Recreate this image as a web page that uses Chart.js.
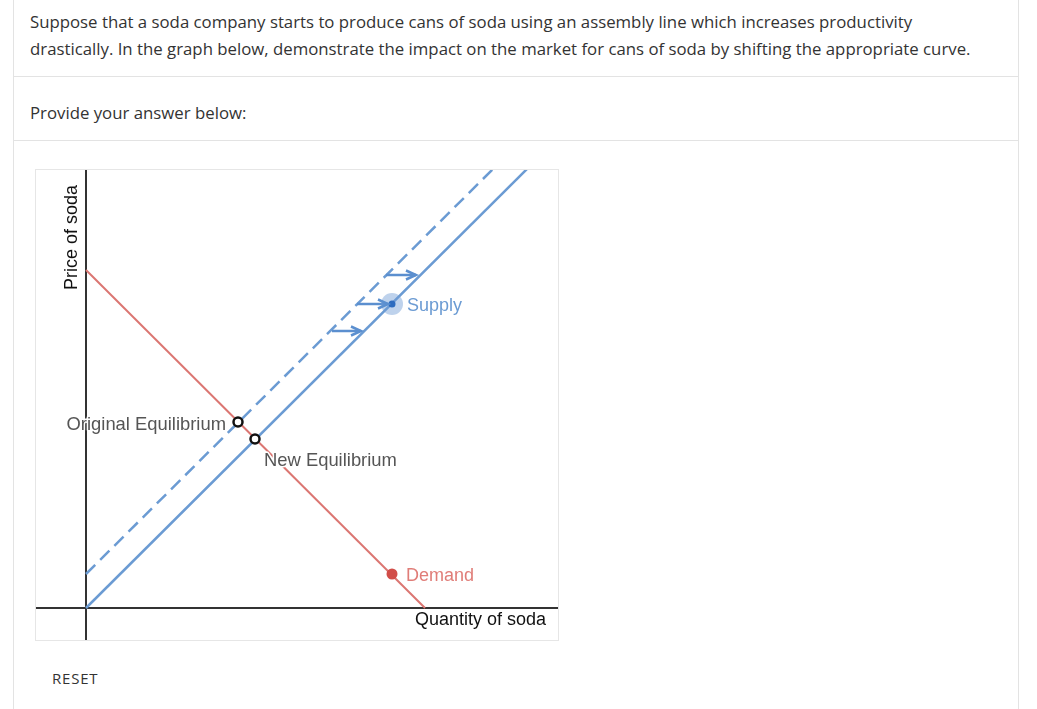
<!DOCTYPE html>
<html>
<head>
<meta charset="utf-8">
<script src="https://cdn.jsdelivr.net/npm/chart.js@4"></script>
<style>
    html, body { margin: 0; padding: 0; background: #fff; }
    body { width: 1037px; height: 709px; position: relative; overflow: hidden; font-family: 'Open Sans', sans-serif; color: #333; }
    .vline { position: absolute; top: 0; bottom: 0; width: 1px; background: #e3e3e3; }
    .hline { position: absolute; left: 13px; width: 1006px; height: 1px; background: #e3e3e3; }
    .question { position: absolute; left: 30px; top: 8px; font-size: 16.8px; line-height: 27px; }
    .prompt { position: absolute; left: 30px; top: 99px; font-size: 16.8px; line-height: 27px; }
    .chart-box { position: absolute; left: 35px; top: 169px; width: 522px; height: 470px; border: 1px solid #e6e6e6; }
    .reset { position: absolute; left: 52px; top: 668px; font-size: 15px; letter-spacing: 0.8px; color: #333; }
</style>
</head>
<body>
<div class="vline" style="left:13px"></div>
<div class="vline" style="left:1018px"></div>
<div class="hline" style="top:76px"></div>
<div class="hline" style="top:140px"></div>

<div class="question">Suppose that a soda company starts to produce cans of soda using an assembly line which increases productivity<br>drastically. In the graph below, demonstrate the impact on the market for cans of soda by shifting the appropriate curve.</div>
<div class="prompt">Provide your answer below:</div>

<div class="chart-box"><canvas id="marketChart" width="522" height="470"></canvas></div>
<div class="reset">RESET</div>

<script>
// ===== DATA (quantity / price units) =====
const xRange = [-5.0, 47.2];
const yRange = [-3.2, 43.8];

const supplyNewQ = [0, 44.1];
const supplyNewP = [0, 43.9];
const supplyOldQ = [0, 40.7];
const supplyOldP = [3.4, 43.9];
const demandQ = [33.9, 0];
const demandP = [0, 33.8];

const originalEq = [15.2, 18.6];
const newEq = [16.9, 16.9];
const supplyHandle = [30.6, 30.4];
const demandHandle = [30.6, 3.4];

// shift arrows: from the old (dashed) supply to the new one
const arrowFromQ = [30.0, 27.1, 24.6];
const arrowToQ = [33.0, 30.2, 27.5];
const arrowP = [33.3, 30.4, 27.7];

const BLUE = '#6b9bd3';
const RED = '#db7672';

function pts(qs, ps) {
    return qs.map((q, i) => ({ x: q, y: ps[i] }));
}

const arrowSets = arrowP.map((p, i) => ({
    data: [{ x: arrowFromQ[i], y: p }, { x: arrowToQ[i], y: p }],
    showLine: true,
    borderColor: '#5b8fcf',
    borderWidth: 2.5,
    pointRadius: 0,
    isArrow: true,
    order: 5
}));

// ===== PLUGINS =====
const axesPlugin = {
    id: 'axes',
    beforeDatasetsDraw(chart) {
        const { ctx, chartArea, scales } = chart;
        const x0 = scales.x.getPixelForValue(0);
        const y0 = scales.y.getPixelForValue(0);
        ctx.save();
        ctx.strokeStyle = '#333';
        ctx.lineWidth = 2;
        ctx.beginPath();
        ctx.moveTo(x0, chartArea.top);
        ctx.lineTo(x0, chartArea.bottom);
        ctx.moveTo(chartArea.left, y0);
        ctx.lineTo(chartArea.right, y0);
        ctx.stroke();
        ctx.restore();
    }
};

const arrowHeadPlugin = {
    id: 'arrowHeads',
    afterDatasetsDraw(chart) {
        const { ctx } = chart;
        ctx.save();
        chart.data.datasets.forEach((ds, i) => {
            if (!ds.isArrow) return;
            const els = chart.getDatasetMeta(i).data;
            const tip = els[1];
            ctx.strokeStyle = ds.borderColor;
            ctx.lineWidth = 2.5;
            ctx.beginPath();
            ctx.moveTo(tip.x - 10, tip.y - 4.5);
            ctx.lineTo(tip.x, tip.y);
            ctx.lineTo(tip.x - 10, tip.y + 4.5);
            ctx.stroke();
        });
        ctx.restore();
    }
};

// text with a thin white halo, so lines behind it break around the letters
function haloText(ctx, text, x, y) {
    ctx.strokeText(text, x, y);
    ctx.fillText(text, x, y);
}

const labelPlugin = {
    id: 'labels',
    afterDatasetsDraw(chart) {
        const { ctx, chartArea, scales } = chart;
        const px = v => scales.x.getPixelForValue(v);
        const py = v => scales.y.getPixelForValue(v) + 2;
        ctx.save();
        ctx.font = '18px Arial, "Liberation Sans", sans-serif';
        ctx.textBaseline = 'middle';
        ctx.strokeStyle = '#fff';
        ctx.lineWidth = 3;
        ctx.lineJoin = 'round';

        ctx.fillStyle = BLUE;
        ctx.textAlign = 'left';
        haloText(ctx, 'Supply', px(supplyHandle[0]) + 15, py(supplyHandle[1]));

        ctx.fillStyle = '#e07d78';
        haloText(ctx, 'Demand', px(demandHandle[0]) + 14, py(demandHandle[1]));

        ctx.font = '18.4px Arial, "Liberation Sans", sans-serif';
        ctx.fillStyle = '#555';
        haloText(ctx, 'New Equilibrium', px(newEq[0]) + 9, py(newEq[1]) + 20);
        ctx.textAlign = 'right';
        haloText(ctx, 'Original Equilibrium', px(originalEq[0]) - 12, py(originalEq[1]) + 1);

        ctx.font = '18px Arial, "Liberation Sans", sans-serif';
        ctx.fillStyle = '#111';
        haloText(ctx, 'Quantity of soda', chartArea.right - 12, py(0) + 10);

        ctx.translate(scales.x.getPixelForValue(0) - 14, chartArea.top + 15);
        ctx.rotate(-Math.PI / 2);
        ctx.textAlign = 'right';
        ctx.fillText('Price of soda', 0, 0);
        ctx.restore();
    }
};

// ===== CHART =====
const marketChart = new Chart(document.getElementById('marketChart'), {
    type: 'scatter',
    data: {
        datasets: [
            {
                data: [{ x: originalEq[0], y: originalEq[1] }, { x: newEq[0], y: newEq[1] }],
                pointRadius: 4.5,
                pointBorderWidth: 2.5,
                pointBackgroundColor: '#fff',
                pointBorderColor: '#111',
                order: 0
            },
            {
                data: [{ x: supplyHandle[0], y: supplyHandle[1] }],
                pointRadius: 3.5,
                pointBorderWidth: 0,
                pointBackgroundColor: '#2c6bbf',
                order: 1
            },
            {
                data: [{ x: supplyHandle[0], y: supplyHandle[1] }],
                pointRadius: 11,
                pointBorderWidth: 0,
                pointBackgroundColor: 'rgba(110, 155, 212, 0.45)',
                order: 2
            },
            {
                data: [{ x: demandHandle[0], y: demandHandle[1] }],
                pointRadius: 5.5,
                pointBorderWidth: 0,
                pointBackgroundColor: '#d14d48',
                order: 1
            },
            ...arrowSets,
            {
                data: pts(supplyNewQ, supplyNewP),
                showLine: true,
                borderColor: BLUE,
                borderWidth: 2.5,
                pointRadius: 0,
                order: 6
            },
            {
                data: pts(supplyOldQ, supplyOldP),
                showLine: true,
                borderColor: BLUE,
                borderWidth: 2.5,
                borderDash: [13, 7],
                pointRadius: 0,
                order: 6
            },
            {
                data: pts(demandQ, demandP),
                showLine: true,
                borderColor: RED,
                borderWidth: 2,
                pointRadius: 0,
                order: 7
            }
        ]
    },
    options: {
        responsive: false,
        animation: false,
        events: [],
        layout: { padding: 0, autoPadding: false },
        plugins: {
            legend: { display: false },
            tooltip: { enabled: false }
        },
        scales: {
            x: { type: 'linear', min: xRange[0], max: xRange[1], display: false },
            y: { type: 'linear', min: yRange[0], max: yRange[1], display: false }
        }
    },
    plugins: [axesPlugin, arrowHeadPlugin, labelPlugin]
});
</script>
</body>
</html>
